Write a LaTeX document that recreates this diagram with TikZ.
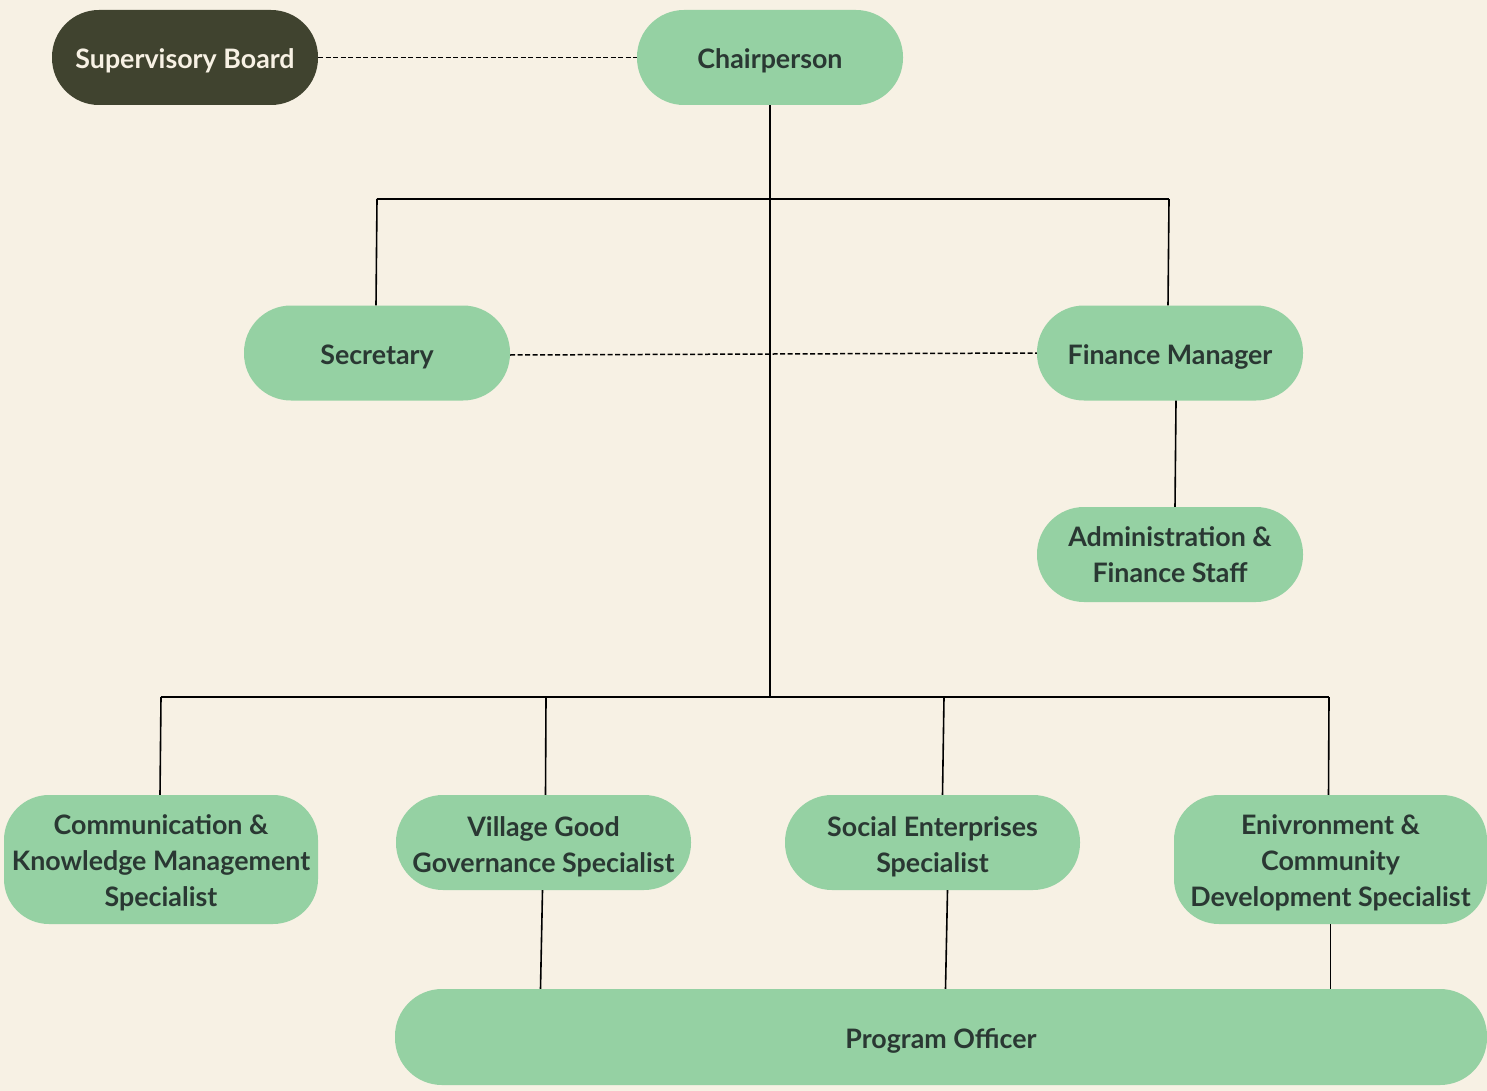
\documentclass[tikz,border=0pt]{standalone}
\usepackage{fontspec}
\setmainfont{Lato}[UprightFont=* Bold]
\definecolor{bg}{HTML}{F7F1E4}
\definecolor{gr}{HTML}{95D1A3}
\definecolor{dk}{HTML}{40432F}
\definecolor{tx}{HTML}{2A3833}
\newcommand\mytxt[2]{\raisebox{#1}[0pt][0pt]{\begin{tabular}[t]{@{}c@{}}#2\end{tabular}}}
\begin{document}
\begin{tikzpicture}[x=1pt,y=-1pt,
  box/.style={fill=gr,text=tx,rounded corners=47pt,minimum width=266pt,minimum height=95pt,inner sep=0pt,font=\fontsize{26.8}{36}\selectfont},
  bigbox/.style={box,rounded corners=45pt,minimum height=129pt},
  conn/.style={line width=1.6pt,black},
  dconn/.style={line width=1.5pt,black,dash pattern=on 5pt off 2.5pt}]
\fill[bg] (0,0) rectangle (1487,1091);
\useasboundingbox (0,0) rectangle (1487,1091);
\node[box,fill=dk,text=bg] (sb) at (185,57.5) {\mytxt{-11pt}{Supervisory Board}};
\node[box] (ch) at (770,57.5) {\mytxt{-11pt}{Chairperson}};
\node[box] (se) at (377,353) {\mytxt{-11pt}{Secretary}};
\node[box] (fm) at (1170,353) {\mytxt{-11pt}{Finance Manager}};
\node[box] (af) at (1170,554.5) {\mytxt{8pt}{Administration \&\\Finance Staff}};
\node[bigbox,minimum width=314pt] (cm) at (161,859.5) {\mytxt{25pt}{Communication \&\\Knowledge Management\\Specialist}};
\node[box,minimum width=295pt] (vg) at (543.5,842.5) {\mytxt{6.5pt}{Village Good\\Governance Specialist}};
\node[box,minimum width=295pt] (so) at (932.5,842.5) {\mytxt{6.5pt}{Social Enterprises\\Specialist}};
\node[bigbox,minimum width=313pt] (en) at (1330.5,859.5) {\mytxt{25pt}{Enivronment \&\\Community\\Development Specialist}};
\node[box,minimum width=1092pt,minimum height=96pt] (po) at (941,1037) {\mytxt{-11pt}{Program Officer}};
\coordinate (t1) at (377,199);
\coordinate (t2) at (1169,199);
\coordinate (j2) at (770,697);
\coordinate (b1) at (161,697);
\coordinate (b2) at (546,697);
\coordinate (b3) at (944,697);
\coordinate (b4) at (1329,697);
\draw[dconn] (sb.east) -- (ch.west);
\draw[conn] (ch.south) -- (j2);
\draw[conn] (t1) -- (t2);
\draw[conn] (t1) -- ([xshift=-1pt]se.north);
\draw[conn] (t2) -- ([xshift=-2pt]fm.north);
\draw[dconn] ([yshift=-2pt]se.east) -- (fm.west);
\draw[conn] ([xshift=6pt]fm.south) -- ([xshift=5pt]af.north);
\draw[conn] (b1) -- (b4);
\draw[conn] (b1) -- ([xshift=-1pt]cm.north);
\draw[conn] (b2) -- ([xshift=2pt]vg.north);
\draw[conn] (b3) -- ([xshift=10pt]so.north);
\draw[conn] (b4) -- ([xshift=-2pt]en.north);
\draw[conn] ([xshift=-1pt]vg.south) -- ([xshift=-3pt]vg.south |- po.north);
\draw[conn] ([xshift=15pt]so.south) -- ([xshift=13pt]so.south |- po.north);
\draw[conn] (en.south) -- (en.south |- po.north);
\end{tikzpicture}
\end{document}
